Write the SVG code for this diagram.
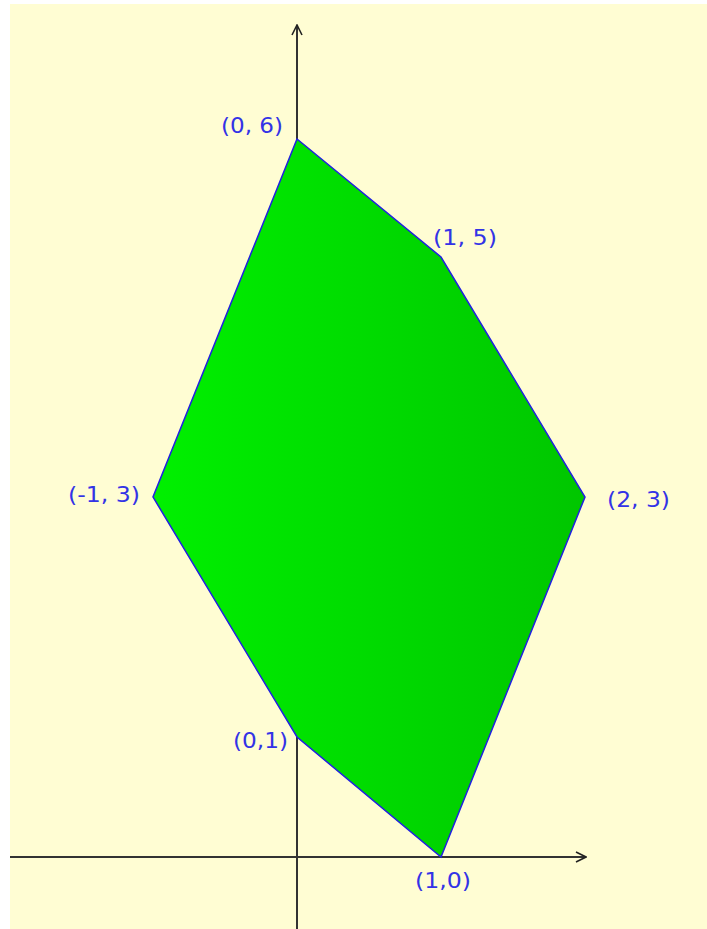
<svg xmlns="http://www.w3.org/2000/svg" width="707" height="929" viewBox="0 0 707 929">
<defs>
<linearGradient id="g" x1="153" y1="0" x2="585" y2="0" gradientUnits="userSpaceOnUse">
<stop offset="0" stop-color="#00F000"/>
<stop offset="1" stop-color="#00C600"/>
</linearGradient>
<marker id="arr" viewBox="0 0 12 12" refX="11" refY="6" markerWidth="12" markerHeight="12" markerUnits="userSpaceOnUse" orient="auto">
<path d="M1,1 L11,6 L1,11" fill="none" stroke="#222" stroke-width="1.6"/>
</marker>
<style>
.lbl{font-family:"DejaVu Sans","Verdana",sans-serif;font-size:21px;fill:#3333E6}
.ax{stroke:#333;stroke-width:2;fill:none}
</style>
</defs>
<rect x="0" y="0" width="707" height="929" fill="#ffffff"/>
<rect x="10" y="4" width="697" height="925" fill="#FFFDD3"/>
<g id="connectors">
<line class="ax" x1="10" y1="857" x2="586" y2="857" marker-end="url(#arr)"/>
<line class="ax" x1="297" y1="929" x2="297" y2="25" marker-end="url(#arr)"/>
</g>
<g id="polygon">
<polygon points="297,139 441,257 585,497 441,857 297,737 153,497" fill="url(#g)" stroke="#2020E0" stroke-width="1.5"/>
</g>
<g id="labels">
<text class="lbl" x="221" y="133" textLength="62" lengthAdjust="spacingAndGlyphs">(0, 6)</text>
<text class="lbl" x="433" y="245" textLength="64" lengthAdjust="spacingAndGlyphs">(1, 5)</text>
<text class="lbl" x="68" y="502" textLength="72" lengthAdjust="spacingAndGlyphs">(-1, 3)</text>
<text class="lbl" x="607" y="507" textLength="63" lengthAdjust="spacingAndGlyphs">(2, 3)</text>
<text class="lbl" x="233" y="748" textLength="55" lengthAdjust="spacingAndGlyphs">(0,1)</text>
<text class="lbl" x="415" y="888" textLength="56" lengthAdjust="spacingAndGlyphs">(1,0)</text>
</g>
</svg>
